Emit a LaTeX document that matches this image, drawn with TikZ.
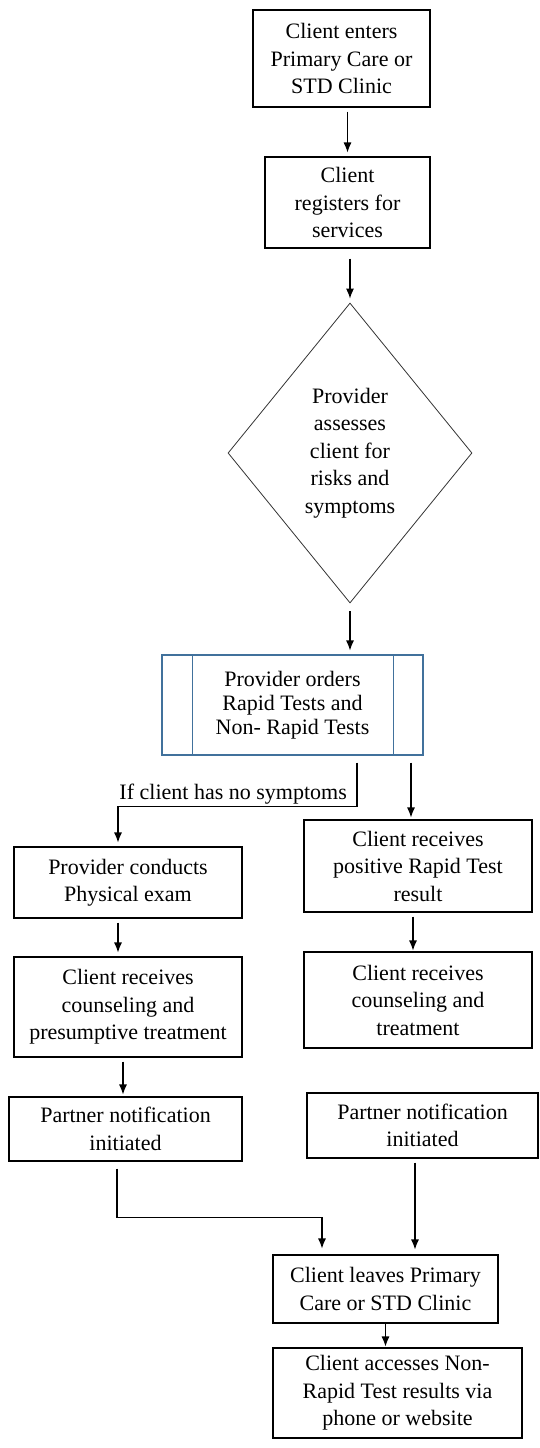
\documentclass[tikz,border=0pt]{standalone}
\usepackage{fontspec}
\setmainfont{Liberation Serif}
\usepackage{xcolor}
\usetikzlibrary{arrows.meta}
\usetikzlibrary{shapes.geometric}

\definecolor{procblue}{RGB}{65,113,156}

\tikzset{
  stepbox/.style={draw, line width=1.1pt, align=center, inner sep=0pt},
  flow/.style={-{Latex[length=10pt,width=8pt]}, line width=1.1pt, shorten <=4pt, shorten >=4pt},
}

\begin{document}
\begin{tikzpicture}[x=1pt,y=-1pt,font=\fontsize{22}{27.5}\selectfont]
\useasboundingbox (0,0) rectangle (540,1448);

% centre column
\node[stepbox, minimum width=177pt, minimum height=97pt] (enter) at (341.5,58.5) {Client enters\\Primary Care or\\STD Clinic};
\node[stepbox, minimum width=165pt, minimum height=91pt] (register) at (347.5,202.5) {Client\\registers for\\services};
\node[draw=black!80, line width=0.8pt, diamond, inner sep=0pt, align=center, minimum width=244pt, minimum height=300pt] (assess) at (350,453) {Provider\\assesses\\client for\\risks and\\symptoms};
\node[stepbox, draw=procblue, minimum width=261pt, minimum height=100pt, font=\fontsize{22}{24}\selectfont] (orders) at (292.5,705) {Provider orders\\Rapid Tests and\\Non- Rapid Tests};
\draw[procblue, line width=1.1pt] ([xshift=31pt]orders.north west) -- ([xshift=31pt]orders.south west);
\draw[procblue, line width=1.1pt] ([xshift=-30pt]orders.north east) -- ([xshift=-30pt]orders.south east);

% left branch
\node[stepbox, minimum width=228pt, minimum height=71pt] (phys) at (128,882.5) {Provider conducts\\Physical exam};
\node[stepbox, minimum width=228pt, minimum height=100pt] (counselL) at (128,1007) {Client receives\\counseling and\\presumptive treatment};
\node[stepbox, minimum width=233pt, minimum height=64pt] (partnerL) at (125.5,1129) {Partner notification\\initiated};

% right branch
\node[stepbox, minimum width=228pt, minimum height=92pt] (positive) at (418,866) {Client receives\\positive Rapid Test\\result};
\node[stepbox, minimum width=228pt, minimum height=96pt] (counselR) at (418,1000) {Client receives\\counseling and\\treatment};
\node[stepbox, minimum width=231pt, minimum height=65pt] (partnerR) at (422.5,1125.5) {Partner notification\\initiated};

% exit
\node[stepbox, minimum width=225pt, minimum height=68pt] (leaves) at (385.5,1289) {Client leaves Primary\\Care or STD Clinic};
\node[stepbox, minimum width=249pt, minimum height=90pt] (accesses) at (397.5,1393) {Client accesses Non-\\Rapid Test results via\\phone or website};

\node[anchor=base east, inner sep=0pt] (nosym) at (347,799) {If client has no symptoms};

\coordinate (nsdrop) at ([xshift=64.5pt]orders.south);
\coordinate (physin) at ([xshift=-10pt]phys.north);
\coordinate (posin) at ([xshift=-7pt]positive.north);
\coordinate (ptnin) at ([xshift=-2.5pt]partnerL.north);
\coordinate (lvinL) at ([xshift=-63.5pt]leaves.north);
\coordinate (lvinR) at ([xshift=29.5pt]leaves.north);

\draw[flow] (register.north |- enter.south) -- (register.north);
\draw[flow, shorten <=10pt] (assess.north |- register.south) -- (assess.north);
\draw[flow, shorten <=8pt] (assess.south) -- (assess.south |- orders.north);
\draw[flow, shorten <=7pt] (nsdrop) -- ++(0,51) -| (physin);
\draw[flow, shorten <=7pt, shorten >=2pt] (posin |- orders.south) -- (posin);
\draw[flow] (physin |- phys.south) -- (physin |- counselL.north);
\draw[flow, shorten >=2pt] (ptnin |- counselL.south) -- (ptnin);
\draw[flow, shorten >=1pt] ([xshift=-5pt]positive.south) -- ([xshift=-5pt]counselR.north);
\draw[flow, shorten <=7pt, shorten >=6pt] ([xshift=-8.5pt]partnerL.south) -- ++(0,56) -| (lvinL);
\draw[flow, shorten >=5pt] (lvinR |- partnerR.south) -- (lvinR);
\draw[flow, shorten <=0pt, shorten >=1pt] (leaves.south) -- (leaves.south |- accesses.north);
\end{tikzpicture}
\end{document}
